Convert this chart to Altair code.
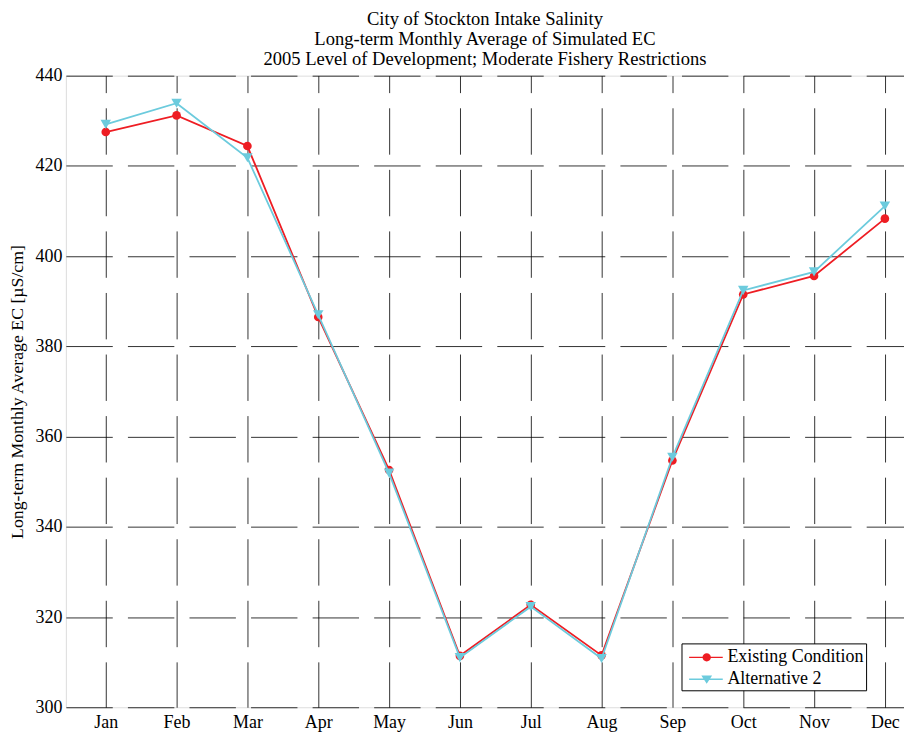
import altair as alt
import pandas as pd

months = ["Jan", "Feb", "Mar", "Apr", "May", "Jun", "Jul", "Aug", "Sep", "Oct", "Nov", "Dec"]
month_idx = list(range(1, 13))
existing = [427.5, 431.2, 424.4, 386.5, 352.6, 311.4, 322.7, 311.5, 354.7, 391.5, 395.6, 408.3]
alternative2 = [429.2, 433.9, 421.8, 387.0, 351.9, 311.0, 322.3, 310.8, 355.4, 392.4, 396.5, 411.1]
series_names = ["Existing Condition", "Alternative 2"]
series_colors = ["#EE1D23", "#6CCBDD"]

FONT = "Liberation Serif"

rows = []
for name, vals in zip(series_names, [existing, alternative2]):
    for m, v in zip(month_idx, vals):
        rows.append({"month": m, "ec": v, "series": name})
df = pd.DataFrame(rows)

x_enc = alt.X(
    "month:Q",
    scale=alt.Scale(domain=[0.437, 12.27], nice=False, zero=False),
    axis=alt.Axis(
        values=month_idx,
        labelExpr="['Jan','Feb','Mar','Apr','May','Jun','Jul','Aug','Sep','Oct','Nov','Dec'][datum.value-1]",
        title=None,
        grid=True,
        gridColor="#000000",
        gridDash=[46.5, 15.2],
        gridDashOffset=29.5,
        gridWidth=1,
        gridOpacity=0.8,
        ticks=False,
        domain=False,
        labelFont=FONT,
        labelFontSize=18,
        labelColor="#000000",
        labelPadding=6,
    ),
)
y_enc = alt.Y(
    "ec:Q",
    scale=alt.Scale(domain=[300, 440], nice=False, zero=False),
    axis=alt.Axis(
        values=[300, 320, 340, 360, 380, 400, 420, 440],
        title="Long-term Monthly Average EC [\u00b5S/cm]",
        titleFont=FONT,
        titleFontSize=17.8,
        titleFontWeight="normal",
        titleColor="#000000",
        titlePadding=8,
        grid=True,
        gridColor="#000000",
        gridDash=[46.5, 15.2],
        gridWidth=1,
        gridOpacity=0.8,
        ticks=False,
        domain=False,
        labelFont=FONT,
        labelFontSize=18,
        labelColor="#000000",
        labelPadding=4,
    ),
)

base = alt.Chart(df)

layers = []
shapes = ["circle", "triangle-down"]
sizes = [75, 110]
for name, col, shp, sz in zip(series_names, series_colors, shapes, sizes):
    sub = base.transform_filter(alt.datum.series == name)
    layers.append(sub.mark_line(strokeWidth=1.8, color=col).encode(x=x_enc, y=y_enc))
    layers.append(
        sub.mark_point(shape=shp, filled=True, size=sz, opacity=1, color=col).encode(x=x_enc, y=y_enc)
    )

legend_paths = [
    "M-0.53,-0.06L2.28,-0.06L2.28,0.06L-0.53,0.06Z M1.29,0A0.35,0.35 0 1,1 0.59,0A0.35,0.35 0 1,1 1.29,0Z",
    "M-0.53,-0.06L2.28,-0.06L2.28,0.06L-0.53,0.06Z M0.49,-0.31L1.39,-0.31L0.94,0.37Z",
]

legend_props = dict(
    title=None,
    orient="none",
    legendX=617,
    legendY=569,
    padding=2,
    strokeColor="#000000",
    fillColor="#ffffff",
    symbolSize=576,
    symbolStrokeWidth=0,
    labelOffset=20,
    rowPadding=1,
    labelFont=FONT,
    labelFontSize=18,
    labelColor="#000000",
    labelLimit=400,
)

legend_layer = base.transform_filter("false").mark_point(filled=True, opacity=1).encode(
    x=x_enc,
    y=y_enc,
    color=alt.Color(
        "series:N",
        scale=alt.Scale(domain=series_names, range=series_colors),
        legend=alt.Legend(**legend_props),
    ),
    shape=alt.Shape(
        "series:N",
        scale=alt.Scale(domain=series_names, range=legend_paths),
        legend=alt.Legend(**legend_props),
    ),
)
layers.append(legend_layer)

chart = alt.layer(*layers).properties(
    width=840,
    height=633,
    autosize=alt.AutoSizeParams(type="none"),
    padding={"left": 58, "top": 67, "right": 0, "bottom": 27},
    title=alt.TitleParams(
        text=[
            "City of Stockton Intake Salinity",
            "Long-term Monthly Average of Simulated EC",
            "2005 Level of Development; Moderate Fishery Restrictions",
        ],
        font=FONT,
        fontSize=18.6,
        fontWeight="normal",
        color="#000000",
        lineHeight=20,
        anchor="middle",
        offset=-2,
    ),
).configure_view(stroke="#000000", strokeWidth=1.2).configure(background="#ffffff")

chart.save("out.html", embed_options={"renderer": "svg", "actions": False})
